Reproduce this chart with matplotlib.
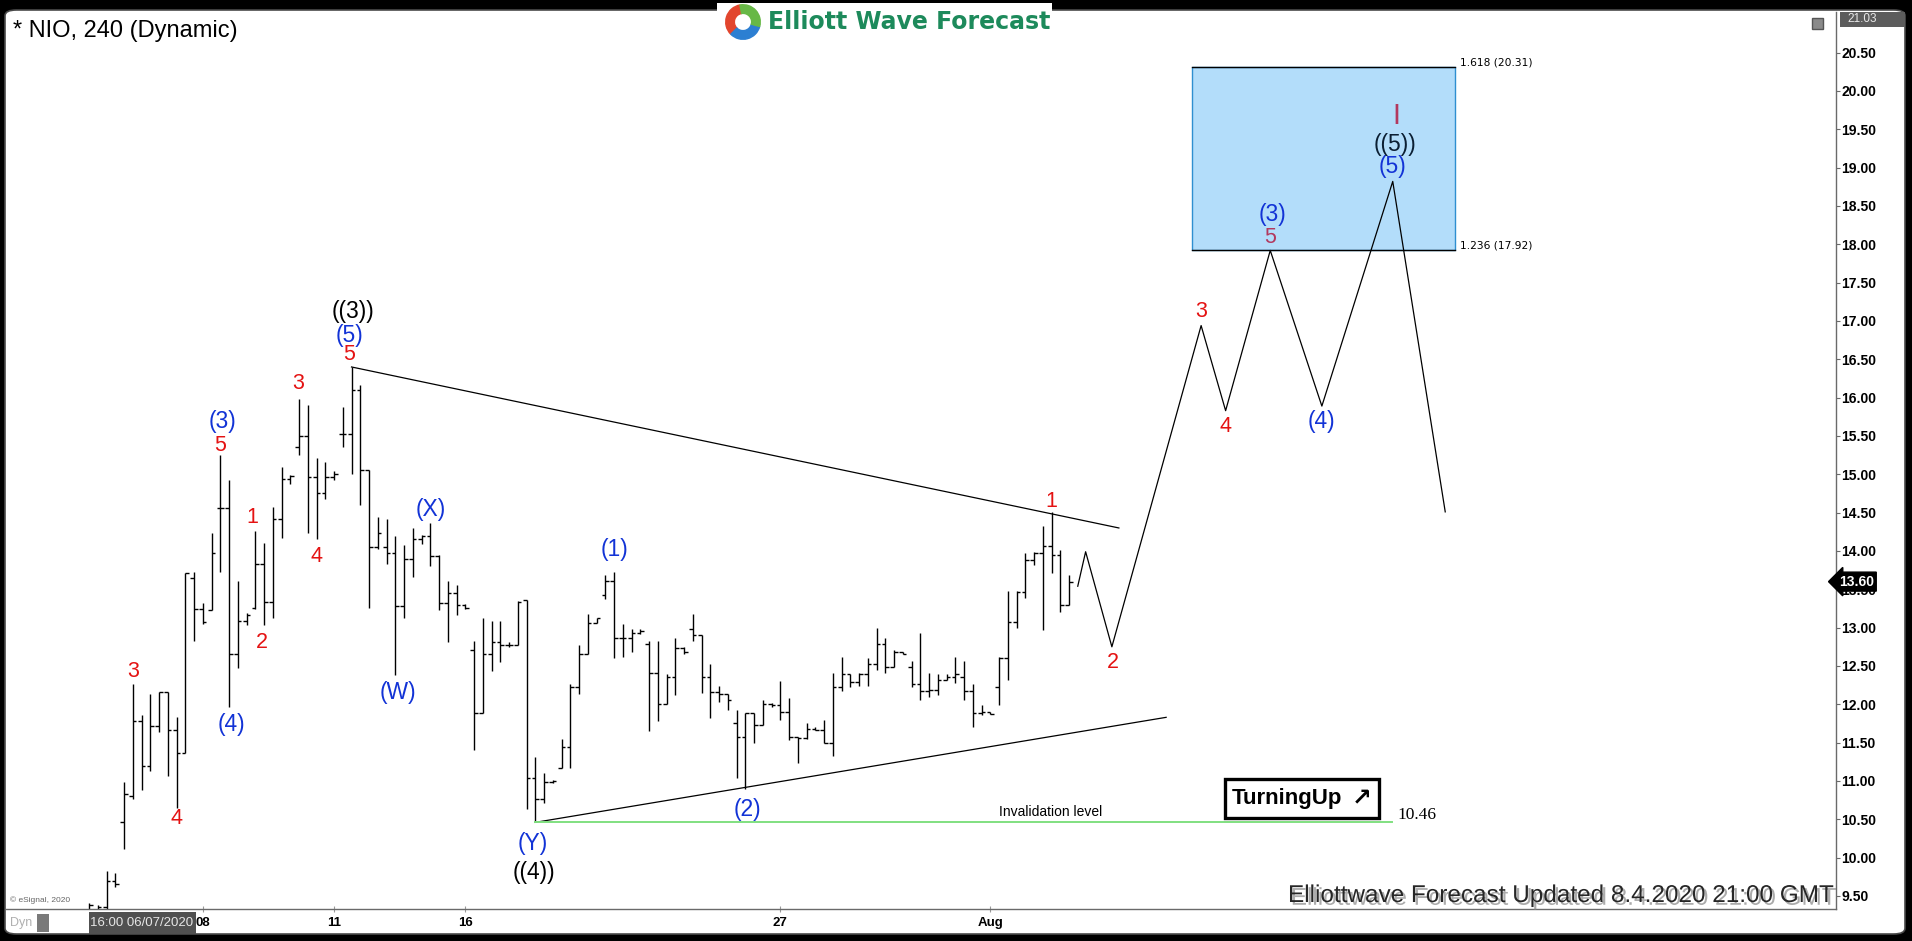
import matplotlib
matplotlib.use("Agg")
import matplotlib.pyplot as plt
import matplotlib.patheffects as pe
from matplotlib.patches import Rectangle, FancyBboxPatch, Wedge

plt.rcParams['font.family'] = ['Liberation Sans', 'DejaVu Sans']

# 240-minute bars of NIO (index = bar number)
opens = [9.30, 9.32, 9.35, 9.69, 10.47, 10.80, 11.78, 11.19, 11.72, 12.16,
         11.66, 11.36, 13.65, 13.24, 13.23, 14.56, 14.56, 12.66, 13.09, 13.25,
         13.83, 13.34, 14.42, 14.94, 15.36, 15.50, 14.97, 14.76, 14.96, 15.52,
         15.52, 16.10, 15.05, 14.05, 14.05, 13.97, 13.28, 13.90, 14.16, 14.19,
         13.93, 13.32, 13.45, 13.29, 12.71, 11.89, 12.65, 12.81, 12.77, 12.78,
         13.36, 11.04, 10.77, 10.99, 11.17, 11.44, 12.23, 12.65, 13.06, 13.43,
         13.61, 12.86, 12.86, 12.93, 12.79, 12.41, 12.00, 12.35, 12.73, 12.98,
         12.90, 12.36, 12.16, 12.14, 11.75, 11.57, 11.89, 11.73, 12.00, 11.99,
         11.90, 11.57, 11.56, 11.68, 11.67, 11.49, 12.23, 12.40, 12.29, 12.39,
         12.53, 12.79, 12.49, 12.68, 12.49, 12.27, 12.18, 12.19, 12.32, 12.36,
         12.36, 12.17, 11.89, 11.90, 12.23, 12.60, 13.07, 13.47, 13.88, 13.98,
         14.07, 13.95, 13.29]
highs = [9.41, 9.38, 9.83, 9.80, 10.99, 12.27, 11.86, 12.13, 12.16, 12.16,
         11.83, 13.71, 13.72, 13.32, 14.24, 15.25, 14.93, 13.61, 13.19, 14.26,
         14.10, 14.57, 15.09, 14.99, 15.98, 15.91, 15.21, 15.16, 15.04, 15.88,
         16.40, 16.16, 15.06, 14.44, 14.42, 14.19, 14.08, 14.30, 14.21, 14.37,
         13.95, 13.61, 13.55, 13.31, 12.83, 13.12, 13.09, 13.09, 12.81, 13.35,
         13.36, 11.31, 11.10, 11.01, 11.55, 12.27, 12.77, 13.18, 13.12, 13.69,
         13.72, 13.05, 12.98, 12.98, 12.82, 12.82, 12.39, 12.87, 12.75, 13.18,
         12.91, 12.52, 12.24, 12.14, 11.93, 11.89, 11.89, 12.06, 12.02, 12.31,
         12.08, 11.57, 11.76, 11.70, 11.79, 12.41, 12.62, 12.40, 12.41, 12.60,
         12.99, 12.87, 12.71, 12.68, 12.57, 12.93, 12.41, 12.39, 12.39, 12.62,
         12.56, 12.27, 11.99, 11.90, 12.62, 13.48, 13.48, 13.97, 13.99, 14.33,
         14.51, 14.01, 13.69]
lows = [9.20, 9.20, 9.20, 9.62, 10.11, 10.76, 10.88, 11.13, 11.64, 11.07,
        10.65, 11.36, 12.82, 13.05, 13.23, 13.72, 11.96, 12.47, 13.03, 13.24,
        13.03, 13.12, 14.17, 14.87, 15.25, 14.23, 14.16, 14.68, 14.93, 15.36,
        15.01, 14.60, 13.26, 14.02, 13.83, 12.38, 13.12, 13.66, 14.09, 13.81,
        13.23, 12.81, 13.17, 13.24, 11.40, 11.89, 12.43, 12.55, 12.75, 12.77,
        10.64, 10.46, 10.71, 10.97, 11.17, 11.17, 12.14, 12.65, 13.06, 13.37,
        12.60, 12.62, 12.68, 12.92, 11.65, 11.78, 12.00, 12.12, 12.66, 12.82,
        12.15, 11.82, 12.03, 11.93, 11.04, 10.90, 11.49, 11.73, 11.97, 11.79,
        11.53, 11.24, 11.55, 11.66, 11.49, 11.32, 12.17, 12.22, 12.24, 12.24,
        12.45, 12.41, 12.49, 12.65, 12.23, 12.05, 12.09, 12.12, 12.32, 12.28,
        12.05, 11.70, 11.86, 11.87, 11.99, 12.32, 12.99, 13.39, 13.82, 12.97,
        13.71, 13.20, 13.29]
closes = [9.38, 9.35, 9.69, 9.66, 10.83, 11.78, 11.19, 11.72, 12.16, 11.66,
          11.36, 13.71, 13.24, 13.08, 13.97, 14.56, 12.66, 13.09, 13.17, 13.83,
          13.34, 14.42, 14.94, 14.98, 15.50, 14.97, 14.76, 14.96, 15.01, 15.52,
          16.10, 15.05, 14.05, 14.24, 13.97, 13.28, 13.90, 14.16, 14.19, 13.93,
          13.32, 13.45, 13.29, 13.26, 11.89, 12.65, 12.81, 12.77, 12.78, 13.33,
          11.04, 10.77, 10.99, 11.00, 11.44, 12.23, 12.65, 13.06, 13.12, 13.61,
          12.86, 12.86, 12.93, 12.96, 12.41, 12.00, 12.35, 12.73, 12.68, 12.90,
          12.36, 12.16, 12.14, 12.06, 11.57, 11.89, 11.73, 12.00, 11.99, 11.90,
          11.57, 11.56, 11.68, 11.67, 11.49, 12.23, 12.40, 12.29, 12.39, 12.53,
          12.79, 12.49, 12.68, 12.66, 12.27, 12.18, 12.19, 12.32, 12.36, 12.39,
          12.17, 11.89, 11.90, 11.87, 12.60, 13.07, 13.47, 13.88, 13.97, 14.07,
          13.95, 13.29, 13.60]

date_ticks = [13, 28, 43, 79, 103]
date_labels = ["08", "11", "16", "27", "Aug"]
price_ticks = [9.5 + 0.5 * k for k in range(23)]
last_price = 13.60

# projected path (bar index, price)
path_x = [113.0, 113.9, 116.9, 127.1, 129.9, 135.0, 140.9, 149.0, 155.0]
path_y = [13.54, 13.99, 12.75, 16.94, 15.83, 17.92, 15.89, 18.82, 14.51]

# triangle lines and invalidation
upper_x, upper_y = [30, 117.7], [16.40, 14.30]
lower_x, lower_y = [51, 123.1], [10.46, 11.83]
invalid_x = [51, 148.9]
invalid_level = 10.46

# target area
box_x = [126.1, 156.1]
box_y = [17.92, 20.31]

# wave labels
RED, BLUE, BLK, PURP = '#e41212', '#1233d6', 'black', '#b2385e'
lab_text = ["3", "4", "(3)", "5", "(4)", "1", "2", "3", "4", "((3))", "(5)", "5",
            "(W)", "(X)", "(Y)", "((4))", "(1)", "(2)", "1", "2",
            "3", "4", "(3)", "5", "(4)", "(5)", "((5))", "I"]
lab_x = [5.0, 10.0, 15.3, 15.0, 16.3, 18.7, 19.7, 23.9, 26.0, 30.2, 29.8, 29.7,
         35.3, 39.0, 50.7, 50.8, 60.0, 75.3, 110.0, 117.0,
         127.1, 129.9, 135.3, 135.0, 140.9, 149.0, 149.3, 149.4]
lab_y = [12.43, 10.51, 15.69, 15.37, 11.73, 14.44, 12.81, 16.19, 13.93, 17.13, 16.81, 16.56,
         12.15, 14.54, 10.18, 9.81, 14.02, 10.63, 14.64, 12.54,
         17.13, 15.62, 18.39, 18.09, 15.69, 19.01, 19.30, 19.67]
lab_color = [RED, RED, BLUE, RED, BLUE, RED, RED, RED, RED, BLK, BLUE, RED,
             BLUE, BLUE, BLUE, BLK, BLUE, BLUE, RED, RED,
             RED, RED, BLUE, PURP, BLUE, BLUE, '#0b1f33', PURP]

W, H = 1912, 941
fig = plt.figure(figsize=(W / 100, H / 100), dpi=100, facecolor='black')

# white panel inside the black frame
fig.patches.append(FancyBboxPatch((5 / W, 7 / H), 1900 / W, 924 / H,
                                  boxstyle='round,pad=0,rounding_size=0.006',
                                  transform=fig.transFigure, facecolor='white',
                                  edgecolor='#4a4a4a', lw=1.2, zorder=-10))
fig.patches.append(Rectangle((717 / W, 1 - 42 / H), 335 / W, 39 / H,
                             transform=fig.transFigure, facecolor='white',
                             edgecolor='none', zorder=-9))

ax = fig.add_axes([6 / W, 32 / H, 1830 / W, 897 / H])
ax.patch.set_visible(False)
ax.set_xlim(-9.49, 199.66)
ax.set_ylim(9.33, 21.03)

# OHLC bars
idx = list(range(len(opens)))
ax.vlines(idx, lows, highs, color='black', lw=1.0)
ax.hlines(opens, [i - 0.42 for i in idx], idx, color='black', lw=1.0)
ax.hlines(closes, idx, [i + 0.42 for i in idx], color='black', lw=1.0)

ax.plot(upper_x, upper_y, color='black', lw=0.9)
ax.plot(lower_x, lower_y, color='black', lw=0.9)
ax.plot(invalid_x, [invalid_level, invalid_level], color='#80e080', lw=1.4)
ax.plot(path_x, path_y, color='black', lw=0.9)

ax.add_patch(Rectangle((box_x[0], box_y[0]), box_x[1] - box_x[0], box_y[1] - box_y[0],
                       facecolor='#b3ddfa', edgecolor='#2f8fd0', lw=1.0, zorder=0.5))
ax.plot(box_x, [box_y[0], box_y[0]], color='black', lw=1.0)
ax.plot(box_x, [box_y[1], box_y[1]], color='black', lw=1.0)
ax.text(156.7, 20.37, "1.618 (20.31)", family='DejaVu Sans', fontsize=7.7,
        ha='left', va='center')
ax.text(156.7, 17.98, "1.236 (17.92)", family='DejaVu Sans', fontsize=7.7,
        ha='left', va='center')

for t, x, y, c in zip(lab_text, lab_x, lab_y, lab_color):
    size = 15.5 if c in (RED, PURP) else 16.5
    if t == "I":
        size = 21
    ax.text(x, y, t, color=c, fontsize=size, ha='center', va='center')

ax.text(109.9, 10.59, "Invalidation level", fontsize=10, ha='center', va='center')
ax.text(149.5, 10.56, "10.46", family='Liberation Serif', fontsize=12.5,
        ha='left', va='center')

# TurningUp badge
ax.add_patch(Rectangle((129.8, 10.52), 17.6, 0.51, facecolor='white',
                       edgecolor='black', lw=2.4, zorder=3))
ax.text(130.6, 10.775, "TurningUp", fontsize=16, fontweight='bold',
        ha='left', va='center', zorder=4)
ax.text(145.4, 10.77, "\u2197", family='DejaVu Sans', fontsize=17,
        fontweight='bold', ha='center', va='center', zorder=4)

# axes styling
for s in ('top', 'left'):
    ax.spines[s].set_visible(False)
for s in ('right', 'bottom'):
    ax.spines[s].set_color('#6a6a6a')
    ax.spines[s].set_linewidth(1.0)
ax.yaxis.tick_right()
ax.set_yticks(price_ticks)
ax.set_yticklabels(["%.2f" % v for v in price_ticks], fontsize=10, fontweight='bold')
ax.tick_params(axis='y', length=3, width=0.8, color='#6a6a6a', pad=1)
ax.set_xticks(date_ticks)
ax.set_xticklabels(date_labels, fontsize=9.5, fontweight='bold')
ax.tick_params(axis='x', direction='inout', length=5, width=0.8, color='#9a9a9a', pad=3)

ax.text(1.0015, last_price, "13.60", transform=ax.get_yaxis_transform(),
        color='white', fontsize=10, fontweight='bold', ha='left', va='center',
        zorder=6, bbox=dict(boxstyle='larrow,pad=0.18', fc='black', ec='black'))

# header, logo, footer
fig.text(13 / W, 1 - 31 / H, "* NIO, 240 (Dynamic)", fontsize=17, ha='left', va='center')
fig.text(768 / W, 1 - 22 / H, "Elliott Wave Forecast", family='DejaVu Sans',
         fontsize=17, fontweight='bold', color='#1d8a5b', ha='left', va='center')
lax = fig.add_axes([724 / W, 1 - 41 / H, 38 / W, 38 / H], zorder=3)
lax.set_xlim(-1.1, 1.1)
lax.set_ylim(-1.1, 1.1)
lax.axis('off')
lax.add_patch(Wedge((0, 0), 1, 100, 225, width=0.5, color='#e2452d'))
lax.add_patch(Wedge((0, 0), 1, 225, 345, width=0.5, color='#2c7fd2'))
lax.add_patch(Wedge((0, 0), 1, 345, 100, width=0.5, color='#67b846'))

fig.patches.append(Rectangle((1840 / W, 1 - 27 / H), 65 / W, 15 / H,
                             transform=fig.transFigure, facecolor='#5c5c5c',
                             edgecolor='none', zorder=5))
fig.text(1847 / W, 1 - 19.5 / H, "21.03", fontsize=8.5, color='#e8e8e8',
         ha='left', va='center', zorder=6)
fig.patches.append(Rectangle((1812 / W, 1 - 29 / H), 11 / W, 11 / H,
                             transform=fig.transFigure, facecolor='#8a8a8a',
                             edgecolor='#555555', zorder=5))

fig.text(10 / W, 1 - 900 / H, "\u00a9 eSignal, 2020", fontsize=6, color='#666666',
         ha='left', va='center')
fig.text(10 / W, 1 - 923 / H, "Dyn", fontsize=9, color='#b0b0b0', ha='left', va='center')
fig.patches.append(Rectangle((37 / W, 1 - 932 / H), 12 / W, 18 / H,
                             transform=fig.transFigure, facecolor='#7a7a7a',
                             edgecolor='none', zorder=5))
fig.patches.append(Rectangle((89 / W, 1 - 934 / H), 107 / W, 22 / H,
                             transform=fig.transFigure, facecolor='#505050',
                             edgecolor='none', zorder=5))
fig.text(142 / W, 1 - 923 / H, "16:00 06/07/2020", fontsize=9.5, color='#e6e6e6',
         ha='center', va='center', zorder=6)

fig.text(1833 / W, 1 - 896 / H, "Elliottwave Forecast Updated 8.4.2020 21:00 GMT",
         fontsize=17.5, color='#262626', ha='right', va='center', zorder=6,
         path_effects=[pe.withSimplePatchShadow(offset=(2, -2), shadow_rgbFace='#888888',
                                                alpha=0.7)])

fig.savefig("out.png", dpi=100, facecolor='black')
